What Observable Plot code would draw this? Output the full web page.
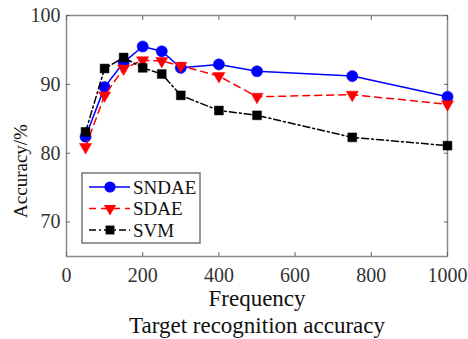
<!DOCTYPE html>
<html>
<head>
<meta charset="utf-8">
<script src="https://cdn.jsdelivr.net/npm/d3@7"></script>
<script src="https://cdn.jsdelivr.net/npm/@observablehq/plot@0.6"></script>
<style>
  html, body { margin: 0; padding: 0; background: #fff; }
  #chart { width: 468px; height: 339px; position: relative; }
  #chart svg, #chart svg text { font-family: "Liberation Serif", "Times New Roman", serif !important; }
</style>
</head>
<body>
<div id="chart"></div>
<script>
const frequency = [50, 100, 150, 200, 250, 300, 400, 500, 750, 1000];
const sndae = [82.4, 89.6, 93.2, 95.5, 94.8, 92.4, 92.9, 91.9, 91.2, 88.2];
const sdae  = [80.9, 88.4, 92.3, 93.5, 93.4, 92.7, 91.2, 88.2, 88.5, 87.1];
const svm   = [83.1, 92.3, 93.9, 92.4, 91.5, 88.4, 86.2, 85.5, 82.3, 81.1];
const seriesNames = ["SNDAE", "SDAE", "SVM"];
const xTicks = [0, 200, 400, 600, 800, 1000];
const yTicks = [70, 80, 90, 100];
const xLabel = "Frequency";
const yLabel = "Accuracy/%";
const caption = "Target recognition accuracy";

const styles = {
  SNDAE: {color: "#0000ff", dash: null, symbol: "circle", r: 5.6, rotate: 0},
  SDAE:  {color: "#ff0000", dash: "7,5", symbol: "triangle", r: 4.5, rotate: 180},
  SVM:   {color: "#000000", dash: "7,3,2,3", symbol: "square", r: 5.0, rotate: 0}
};

const values = {SNDAE: sndae, SDAE: sdae, SVM: svm};
const rows = seriesNames.flatMap(s => frequency.map((f, i) => ({series: s, f, v: values[s][i]})));

const font = "'Liberation Serif', 'Times New Roman', serif";

const marks = [Plot.frame({stroke: "#8a8a8a", strokeWidth: 1.5})];
for (const s of seriesNames) {
  const st = styles[s];
  const data = rows.filter(d => d.series === s);
  marks.push(Plot.line(data, {x: "f", y: "v", stroke: st.color, strokeWidth: 1.5, strokeDasharray: st.dash}));
  marks.push(Plot.dot(data, {x: "f", y: "v", fill: st.color, stroke: st.color, strokeWidth: 0.5, symbol: () => st.symbol, r: st.r, rotate: st.rotate}));
}
marks.push(
  Plot.axisX(xTicks, {anchor: "bottom", tickSize: 0, tickPadding: 11, fontSize: 20, fill: "#333", label: null, tickFormat: d => String(d)}),
  Plot.axisX(xTicks, {anchor: "bottom", tickSize: -4, tickFormat: () => "", stroke: "#666", label: null}),
  Plot.axisX(xTicks, {anchor: "top", tickSize: -4, tickFormat: () => "", stroke: "#666", label: null}),
  Plot.axisY(yTicks, {anchor: "left", tickSize: 0, tickPadding: 6, fontSize: 20, fill: "#333", label: null}),
  Plot.axisY(yTicks, {anchor: "left", tickSize: -4, tickFormat: () => "", stroke: "#666", label: null}),
  Plot.axisY(yTicks, {anchor: "right", tickSize: -4, tickFormat: () => "", stroke: "#666", label: null}),
  Plot.text([xLabel], {frameAnchor: "bottom", lineAnchor: "middle", textAnchor: "middle", text: d => d, dy: 42, fontSize: 23, fill: "#111"}),
  Plot.text([caption], {frameAnchor: "bottom", lineAnchor: "middle", textAnchor: "middle", text: d => d, dy: 69, fontSize: 23, fill: "#111"}),
  Plot.text([yLabel], {frameAnchor: "left", lineAnchor: "middle", textAnchor: "middle", text: d => d, dx: -46, dy: 35, rotate: -90, fontSize: 19, fill: "#111"})
);

const plot = Plot.plot({
  width: 468,
  height: 339,
  marginLeft: 66,
  marginRight: 21,
  marginTop: 15,
  marginBottom: 83,
  style: {fontFamily: font, background: "#fff", overflow: "visible"},
  x: {domain: [0, 1000]},
  y: {domain: [65, 100]},
  marks
});

// Legend box (drawn into the same SVG)
const svg = d3.select(plot);
const lg = svg.append("g").attr("transform", "translate(82,173)").attr("text-anchor", "start");
lg.append("rect").attr("width", 118).attr("height", 70).attr("fill", "#fff").attr("stroke", "#777").attr("stroke-width", 1.5);
const symGen = {circle: d3.symbolCircle, triangle: d3.symbolTriangle, square: d3.symbolSquare};
seriesNames.forEach((s, i) => {
  const st = styles[s];
  const y = 14 + i * 21.5;
  lg.append("line").attr("x1", 7).attr("x2", 48).attr("y1", y).attr("y2", y)
    .attr("stroke", st.color).attr("stroke-width", 1.5).attr("stroke-dasharray", st.dash);
  lg.append("path").attr("d", d3.symbol(symGen[st.symbol], Math.PI * st.r * st.r)())
    .attr("transform", `translate(28,${y}) rotate(${st.rotate})`).attr("fill", st.color);
  lg.append("text").attr("x", 51).attr("y", y).attr("dy", "0.35em").attr("text-anchor", "start")
    .attr("font-size", 19).attr("fill", "#111").text(s);
});

document.getElementById("chart").appendChild(plot);
</script>
</body>
</html>
